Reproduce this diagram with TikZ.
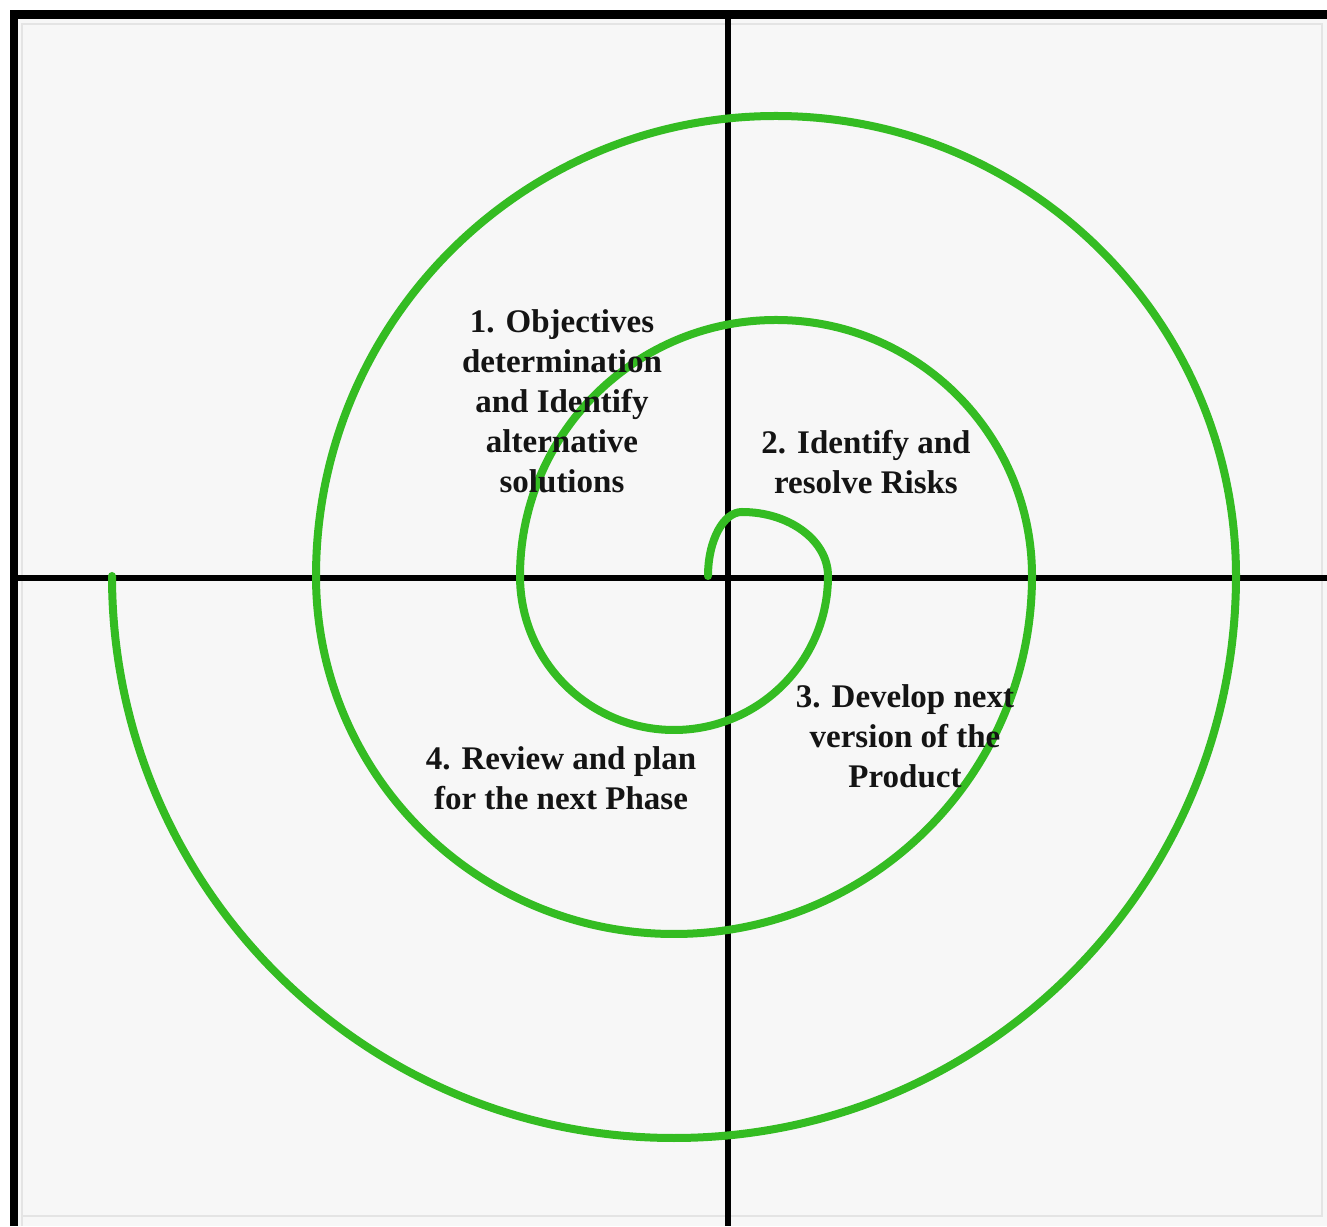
\documentclass[tikz,border=0pt]{standalone}
\usepackage{fontspec}
\setmainfont{Liberation Serif}
\definecolor{spiralgreen}{RGB}{52,188,34}
\definecolor{panelbg}{RGB}{247,247,247}
\definecolor{innerline}{RGB}{228,228,228}
\tikzset{
  frameline/.style={fill=black, draw=none},
  axisline/.style={draw=black, line width=3pt},
  spiralline/.style={draw=spiralgreen, line width=4pt, line cap=round},
  phaselabel/.style={align=center, inner sep=0pt, text=black!92,
    font=\bfseries\fontsize{16.5}{20}\selectfont}
}
\begin{document}
\begin{tikzpicture}[x=0.5pt, y=0.5pt]
  \useasboundingbox (0,0) rectangle (1327,1226);
  % background
  \fill[white] (0,0) rectangle (1327,1226);
  \fill[panelbg] (14,0) rectangle (1327,1212);
  \draw[innerline, line width=0.8pt] (22,0) -- (22,1202) -- (1322,1202) -- (1322,10) -- (22,10);
  % frame (top and left)
  \fill[frameline] (10,0) rectangle (18,1216);
  \fill[frameline] (10,1207) rectangle (1327,1216);
  % axes
  \coordinate (vtop) at (728,1210);
  \coordinate (vbot) at (728,0);
  \coordinate (hleft) at (16,648);
  \coordinate (hright) at (1327,648);
  \draw[axisline] (vtop) -- (vbot);
  \draw[axisline] (hleft) -- (hright);
  % spiral
  \coordinate (sstart) at (708,650);
  \draw[spiralline] (sstart)
    arc[start angle=180, end angle=90, x radius=34, y radius=64]
    arc[start angle=90, end angle=0, x radius=86, y radius=64]
    arc[start angle=0, end angle=-180, radius=154]
    arc[start angle=180, end angle=0, radius=256]
    arc[start angle=0, end angle=-180, radius=358]
    arc[start angle=180, end angle=0, radius=460]
    arc[start angle=0, end angle=-180, radius=562];
  % labels
  \node[phaselabel] (p1) at (562,825) {1. Objectives\\determination\\and Identify\\alternative\\solutions};
  \node[phaselabel] (p2) at (866,764) {2. Identify and\\resolve Risks};
  \node[phaselabel] (p3) at (905,490) {3. Develop next\\version of the\\Product};
  \node[phaselabel] (p4) at (561,448) {4. Review and plan\\for the next Phase};
\end{tikzpicture}
\end{document}
